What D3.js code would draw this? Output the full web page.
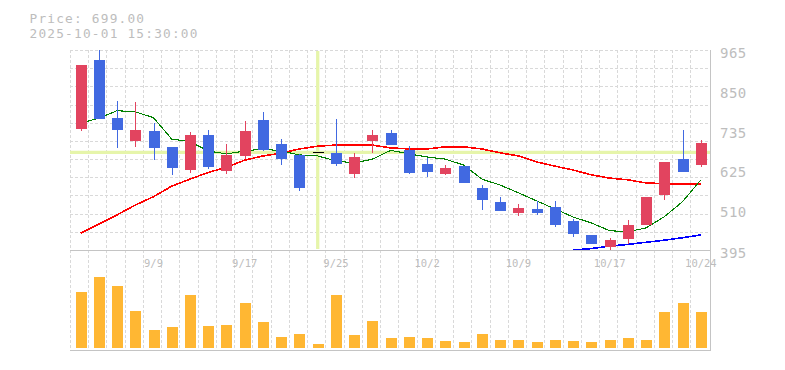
<!DOCTYPE html>
<html><head><meta charset="utf-8">
<script src="https://cdn.jsdelivr.net/npm/d3@7"></script>
<style>body{margin:0;background:#fff;} svg{display:block;}</style>
</head><body><svg id="c" width="785" height="370"></svg>
<script>
// ---- data ----
const dates = ["9/3","9/4","9/5","9/8","9/9","9/10","9/11","9/12","9/16","9/17","9/18","9/19","9/22","9/24","9/25","9/26","9/29","9/30","10/1","10/2","10/3","10/6","10/7","10/8","10/9","10/10","10/14","10/15","10/16","10/17","10/20","10/21","10/22","10/23","10/24"];
const openP  = [741,937,771,706,734,689,624,723,621,664,766,697,666,673,672,613,707,729,680,640,613,634,572,532,501,512,518,478,437,404,427,467,553,654,638];
const highP  = [922,965,820,816,757,689,730,737,697,763,788,711,669,673,768,672,737,737,691,657,637,634,580,546,527,536,536,484,437,428,481,546,646,737,709];
const lowP   = [735,769,687,689,652,610,615,627,613,654,677,638,564,673,635,601,672,695,613,604,610,587,510,507,493,496,461,433,413,395,413,467,538,618,632];
const closeP = [922,769,738,737,687,629,723,632,666,734,681,654,573,673,641,660,723,695,615,618,629,587,538,507,515,501,467,442,413,424,466,546,646,618,699];
const ma5  = [756,771,792,789,772,711,704,677,669,677,683,677,666,663,649,643,654,679,669,660,654,637,597,580,558,535,512,489,472,450,447,458,490,533,595];
const ma25 = [443,469,495,523,547,577,597,616,631,651,663,671,683,691,694,694,694,686,683,683,689,689,683,672,663,646,634,623,609,600,595,586,584,583,583];
const ma75 = [null,null,null,null,null,null,null,null,null,null,null,null,null,null,null,null,null,null,null,null,null,null,null,null,null,null,null,395,399,406,411,417,423,430,438];
const volume = [560,710,620,370,180,210,530,220,230,450,260,110,140,40,530,130,270,100,110,100,70,60,140,80,80,60,80,70,60,80,100,80,360,450,360];
const priceTicks = [395,510,625,735,850,965];
const dateTicks = ["9/9","9/17","9/25","10/2","10/9","10/17","10/24"];
const infoLines = ["Price: 699.00","2025-10-01 15:30:00"];
const crossDate = "9/24", crossPrice = 673;

// ---- layout ----
const L=70, R=710, PT=50, PB=250, VB=348;
const svg = d3.select("#c");
const x = d3.scaleBand().domain(dates).range([71.4, 710]);
const cx = d => x(d) + x.bandwidth()/2;
const y = d3.scaleLinear().domain([395,965]).range([PB,PT]);
const yv = d3.scaleLinear().domain([0,980]).range([VB,250]);
const mono = "'DejaVu Sans Mono', monospace";
const grid = "#d9d9d9", axisC = "#c4c4c4", txt = "#bdbdbd";
const upC = "#e2445f", dnC = "#4169e1";

// grid
const g = svg.append("g").attr("stroke", grid).attr("stroke-dasharray","3,2").attr("shape-rendering","crispEdges");
for (let k=0;k<=10;k++){
  const yy = Math.round(PT + k*(PB-PT)/11)+0.5;
  g.append("line").attr("x1",L).attr("x2",R).attr("y1",yy).attr("y2",yy);
}
dates.forEach((d,i)=>{
  const xx = Math.round(x(d)-1.4)+0.5;
  g.append("line").attr("x1",xx).attr("x2",xx).attr("y1",PT).attr("y2",350);
});

// clip
svg.append("clipPath").attr("id","pc").append("rect").attr("x",L).attr("y",PT).attr("width",R-L).attr("height",PB-PT);

// crosshair
const ch = svg.append("g").attr("stroke","#e6f5aa").attr("stroke-width",3.3);
ch.append("line").attr("x1",L).attr("x2",R).attr("y1",y(crossPrice)).attr("y2",y(crossPrice));
ch.append("line").attr("x1",cx(crossDate)).attr("x2",cx(crossDate)).attr("y1",51).attr("y2",249);

// MA lines
const lg = svg.append("g").attr("clip-path","url(#pc)").attr("fill","none");
function drawMA(arr, color, w){
  const ln = d3.line().defined(v=>v!=null).x((v,i)=>cx(dates[i])).y(v=>y(v));
  lg.append("path").datum(arr).attr("d", ln).attr("stroke", color).attr("stroke-width", w).attr("shape-rendering","crispEdges");
}
drawMA(ma25, "#ff0000", 1.6);
drawMA(ma75, "#0000ff", 1.6);
drawMA(ma5, "#008000", 1.1);

// candles
const cg = svg.append("g").attr("shape-rendering","crispEdges");
dates.forEach((d,i)=>{
  const o=openP[i], c=closeP[i], h=highP[i], l=lowP[i];
  const col = c>o ? upC : (c<o ? dnC : "#000");
  const xc = Math.round(cx(d));
  cg.append("line").attr("x1",xc+0.5).attr("x2",xc+0.5).attr("y1",y(h)).attr("y2",y(l)).attr("stroke",col);
  const top = Math.round(y(Math.max(o,c))), bot = Math.round(y(Math.min(o,c)));
  cg.append("rect").attr("x",xc-5).attr("width",11).attr("y",top).attr("height",Math.max(1,bot-top)).attr("fill",col);
});

// volume
const vg = svg.append("g").attr("shape-rendering","crispEdges");
dates.forEach((d,i)=>{
  const xc = Math.round(cx(d));
  vg.append("rect").attr("x",xc-5).attr("width",11).attr("y",yv(volume[i])).attr("height",VB-yv(volume[i])).attr("fill","#ffb733");
});

// axes lines
const ag = svg.append("g").attr("stroke",axisC).attr("shape-rendering","crispEdges");
ag.append("line").attr("x1",L).attr("x2",R+1).attr("y1",250.5).attr("y2",250.5);
ag.append("line").attr("x1",L).attr("x2",R+1).attr("y1",350.5).attr("y2",350.5);
ag.append("line").attr("x1",R+0.5).attr("x2",R+0.5).attr("y1",PT).attr("y2",351);

// price labels
priceTicks.forEach(v=>{
  svg.append("text").attr("x",720).attr("y",y(v)+7.5).text(v)
    .attr("font-family",mono).attr("font-size",14).attr("letter-spacing",0.5).attr("fill",txt);
});
// date labels
dateTicks.forEach(d=>{
  svg.append("text").attr("x",cx(d)).attr("y",266.5).attr("text-anchor","middle").text(d)
    .attr("font-family",mono).attr("font-size",10.5).attr("fill",txt);
});
// info
infoLines.forEach((t,i)=>{
  svg.append("text").attr("x",29.5).attr("y",22.7+i*15).text(t)
    .attr("font-family",mono).attr("font-size",12.8).attr("letter-spacing",1.2).attr("fill",txt);
});
</script></body></html>
